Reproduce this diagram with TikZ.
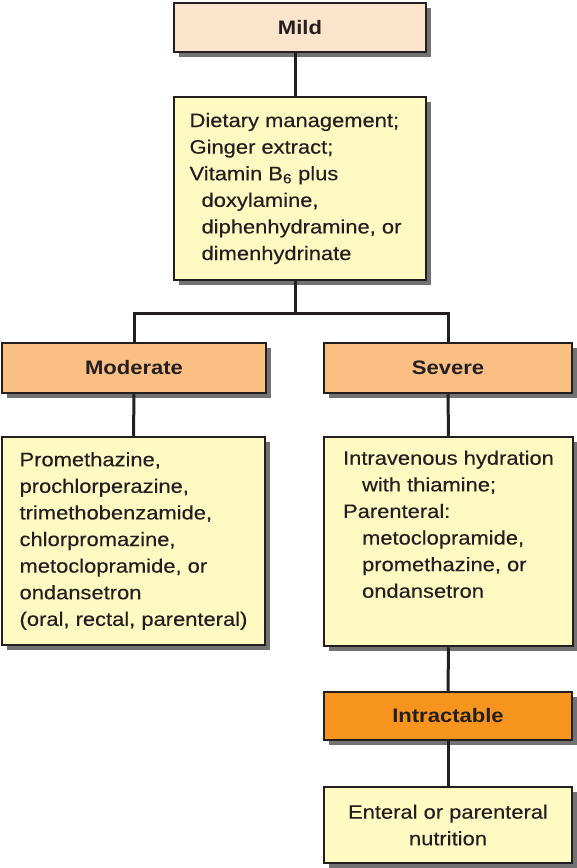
\documentclass[tikz,border=0pt]{standalone}
\usepackage{fontspec}
\setmainfont{Liberation Sans}[FakeStretch=1.13]
\newfontfamily\rxfont{Liberation Sans}[FakeStretch=1.13,FakeBold=0.3]
\usepackage{tikz}
\usetikzlibrary{positioning,shadows}
\tikzset{>=stealth}
\definecolor{ink}{HTML}{231F20}
\definecolor{mildfill}{HTML}{FCE4CC}
\definecolor{midfill}{HTML}{FBBF84}
\definecolor{hotfill}{HTML}{F7941E}
\definecolor{rxfill}{HTML}{FFF9C2}

\begin{document}
\begin{tikzpicture}[x=1pt,y=1pt,
  every node/.style={text=ink},
  box/.style={draw=ink,line width=2.5pt,drop shadow={shadow xshift=5pt,shadow yshift=-5pt,fill=black!65,opacity=.85}},
  stage/.style={box,font=\fontsize{19.5}{24}\selectfont\bfseries},
  rx/.style={box,fill=rxfill,align=left,font=\rxfont\fontsize{19.4}{26.6}\selectfont},
  link/.style={draw=ink,line width=3pt}]
\useasboundingbox (0,0) rectangle (576,-868);
\node[stage,fill=mildfill,minimum width=252pt,minimum height=49pt] (mild) at (300,-27.5) {Mild};
\node[rx,minimum width=252pt,minimum height=183pt] (diet) at (300,-188.5) {Dietary management;\\Ginger extract;\\Vitamin B\textsubscript{6} plus\\\hspace*{12pt}doxylamine,\\\hspace*{12pt}diphenhydramine, or\kern9pt\\\hspace*{12pt}dimenhydrinate};
\node[stage,fill=midfill,minimum width=264pt,minimum height=50pt] (moderate) at (134,-368) {Moderate};
\node[stage,fill=midfill,minimum width=248pt,minimum height=50pt] (severe) at (448,-368) {Severe};
\node[rx,minimum width=263pt,minimum height=208pt] (modrx) at (133.5,-541) {Promethazine,\\prochlorperazine,\\trimethobenzamide,\\chlorpromazine,\\metoclopramide, or\\ondansetron\\(oral, rectal, parenteral)};
\node[rx,minimum width=249pt,minimum height=209pt] (sevrx) at (448.5,-541.5) {Intravenous hydration\\\hspace*{19pt}with thiamine;\\Parenteral:\\\hspace*{19pt}metoclopramide,\\\hspace*{19pt}promethazine, or\\\hspace*{19pt}ondansetron\\\strut};
\node[stage,fill=hotfill,minimum width=248pt,minimum height=48pt] (intract) at (448,-716) {Intractable};
\node[rx,align=center,minimum width=248pt,minimum height=76pt] (enteral) at (448,-825) {Enteral or parenteral\\nutrition};
\draw[link] ([xshift=-5pt]mild.south) -- ([xshift=-5pt]diet.north);
\draw[link] ([xshift=-5pt]diet.south) -- ++(0,-32) coordinate (fork);
\draw[link] (moderate.north) |- (fork) -| (severe.north);
\draw[link] (moderate.south) -- (modrx.north);
\draw[link] (severe.south) -- (sevrx.north);
\draw[link] (sevrx.south) -- (intract.north);
\draw[link] (intract.south) -- (enteral.north);
\end{tikzpicture}
\end{document}
